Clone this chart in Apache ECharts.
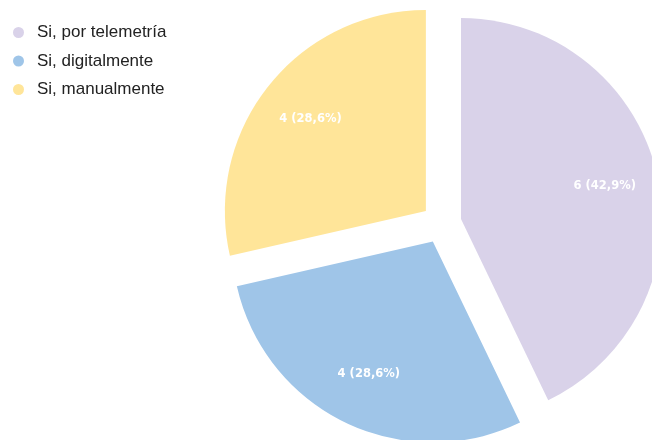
<!DOCTYPE html>
<html>
<head>
<meta charset="utf-8">
<title>Pie chart</title>
<script src="https://cdn.jsdelivr.net/npm/echarts@6/dist/echarts.min.js"></script>
<style>
  html, body { margin: 0; padding: 0; background: #ffffff; }
  #chart { width: 652px; height: 440px; }
</style>
</head>
<body>
<div id="chart"></div>
<script>
// Answer categories and their counts
const categories = ['Si, por telemetría', 'Si, digitalmente', 'Si, manualmente'];
const counts = [6, 4, 4];
const colors = ['#d9d2e9', '#9fc5e8', '#ffe599'];

const total = counts.reduce((a, b) => a + b, 0);

function sliceData(withColor) {
  return categories.map((name, i) => ({
    name: name,
    value: counts[i],
    selected: true,
    itemStyle: withColor ? { color: colors[i] } : { color: 'rgba(0,0,0,0)' }
  }));
}

const chart = echarts.init(document.getElementById('chart'), null, { renderer: 'canvas' });

chart.setOption({
  animation: false,
  color: colors,
  legend: {
    orient: 'vertical',
    left: 8,
    top: 19,
    icon: 'circle',
    itemWidth: 11,
    itemHeight: 11,
    itemGap: 11.5,
    selectedMode: false,
    data: categories,
    textStyle: {
      fontFamily: 'Liberation Sans, Arial, sans-serif',
      fontSize: 17,
      lineHeight: 17,
      color: '#222222',
      padding: [0, 0, 0, 8]
    }
  },
  series: [
    {
      // exploded slices
      type: 'pie',
      center: [441.5, 223.5],
      radius: 201,
      startAngle: 90,
      clockwise: true,
      selectedMode: 'multiple',
      selectedOffset: 20,
      silent: true,
      label: { show: false },
      labelLine: { show: false },
      emphasis: { disabled: true },
      itemStyle: { borderWidth: 0 },
      data: sliceData(true)
    },
    {
      // transparent ring that carries the value labels
      type: 'pie',
      center: [441.5, 223.5],
      radius: [88, 201],
      startAngle: 90,
      clockwise: true,
      selectedMode: 'multiple',
      selectedOffset: 20,
      silent: true,
      labelLine: { show: false },
      emphasis: { disabled: true },
      itemStyle: { borderWidth: 0 },
      label: {
        show: true,
        position: 'inside',
        color: '#ffffff',
        fontFamily: 'DejaVu Sans, Verdana, sans-serif',
        fontWeight: 'bold',
        fontSize: 11.5,
        formatter: function (p) {
          const pct = (p.value / total * 100).toFixed(1).replace('.', ',');
          return p.value + ' (' + pct + '%)';
        }
      },
      data: sliceData(false)
    }
  ]
});
</script>
</body>
</html>
